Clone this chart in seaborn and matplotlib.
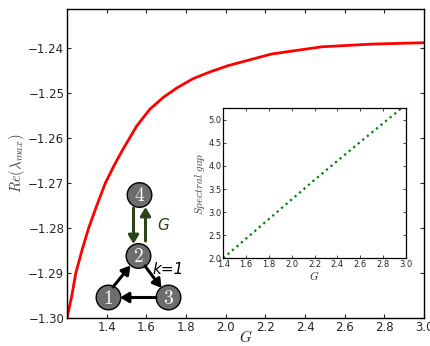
import numpy as np
import pandas as pd
import seaborn as sns
import matplotlib.pyplot as plt
from matplotlib.patches import Circle

sns.set_style("ticks")
plt.rcParams["mathtext.fontset"] = "cm"
plt.rcParams["xtick.direction"] = "in"
plt.rcParams["ytick.direction"] = "in"
plt.rcParams["xtick.top"] = True
plt.rcParams["ytick.right"] = True

## --- data
g_main = [1.200, 1.224, 1.244, 1.278, 1.309, 1.348, 1.393, 1.437, 1.479,
          1.550, 1.617, 1.684, 1.752, 1.835, 1.920, 2.012, 2.079, 2.232,
          2.486, 2.740, 3.000]
re_lambda = [-1.3000, -1.2950, -1.2900, -1.2845, -1.2800, -1.2752, -1.2700,
             -1.2661, -1.2627, -1.2574, -1.2536, -1.2510, -1.2489, -1.2468,
             -1.2453, -1.2439, -1.2431, -1.2413, -1.2397, -1.2391, -1.2388]

g_inset = [1.4, 1.8, 2.2, 2.6, 3.0]
spectral_gap = [2.0, 2.85, 3.70, 4.52, 5.33]

main_xticks = [1.4, 1.6, 1.8, 2.0, 2.2, 2.4, 2.6, 2.8, 3.0]
main_yticks = [-1.30, -1.29, -1.28, -1.27, -1.26, -1.25, -1.24]
inset_xticks = [1.4, 1.6, 1.8, 2.0, 2.2, 2.4, 2.6, 2.8, 3.0]
inset_yticks = [2.0, 2.5, 3.0, 3.5, 4.0, 4.5, 5.0]
## ---

main = pd.DataFrame({"G": g_main, "re": re_lambda})
inset = pd.DataFrame({"G": g_inset, "gap": spectral_gap})

fig = plt.figure(figsize=(4.3, 3.46), dpi=100)

ax = fig.add_axes([0.156, 0.081, 0.830, 0.893])
sns.lineplot(data=main, x="G", y="re", color="red", lw=2, ax=ax)
ax.set_xlim(1.2, 3.0)
ax.set_ylim(-1.30, -1.2313)
ax.set_xticks(main_xticks)
ax.set_yticks(main_yticks)
ax.set_xticklabels([f"{t:.1f}" for t in main_xticks], fontsize=8.5)
ax.set_yticklabels([f"\u2212{abs(t):.2f}" for t in main_yticks], fontsize=8.5)
ax.set_xlabel("$G$", fontsize=11, va="center")
ax.xaxis.set_label_coords(0.5, -0.062)
ax.set_ylabel(r"$Re(\lambda_{max})$", fontsize=10.5, color="#444444", labelpad=1)
ax.tick_params(length=3, width=0.8, pad=2)
for sp in ax.spines.values():
    sp.set_color("black")
    sp.set_linewidth(1)

axi = fig.add_axes([0.519, 0.2535, 0.425, 0.4335])
sns.lineplot(data=inset, x="G", y="gap", color="green", lw=1.6,
             linestyle=":", ax=axi)
axi.set_xlim(1.4, 3.0)
axi.set_ylim(2.0, 5.25)
axi.set_xticks(inset_xticks)
axi.set_yticks(inset_yticks)
axi.set_xticklabels([f"{t:.1f}" for t in inset_xticks], fontsize=6)
axi.set_yticklabels([f"{t:.1f}" for t in inset_yticks], fontsize=6)
axi.set_xlabel("$G$", fontsize=8, labelpad=0)
axi.set_ylabel(r"$Spectral\ gap$", fontsize=8, labelpad=1, color="#444444")
axi.tick_params(length=2, width=0.6, pad=1)
for sp in axi.spines.values():
    sp.set_color("black")
    sp.set_linewidth(0.9)

## --- network sketch drawn in pixel space on a transparent overlay
ov = fig.add_axes([0, 0, 1, 1], facecolor="none")
ov.set_xlim(0, 430)
ov.set_ylim(346, 0)
ov.axis("off")

nodes = {"4": (139.5, 195.0), "2": (138.5, 256.0),
         "1": (108.5, 297.5), "3": (168.5, 297.5)}
for name, (cx, cy) in nodes.items():
    ov.add_patch(Circle((cx, cy), 12.3, facecolor="#6d6d6d", edgecolor="black",
                        lw=1, zorder=3))
    ov.text(cx, cy + 0.5, f"${name}$", color="white", fontsize=14,
            ha="center", va="center", zorder=4)

dark_green = "#2b4316"
arrow = dict(arrowstyle="-|>,head_length=0.5,head_width=0.3", lw=2.2,
             shrinkA=0, shrinkB=0)
ov.annotate("", xy=(133.5, 244), xytext=(133.5, 208),
            arrowprops=dict(arrow, color=dark_green))
ov.annotate("", xy=(145.5, 207), xytext=(145.5, 241),
            arrowprops=dict(arrow, color=dark_green))
ov.text(163, 226, "G", color=dark_green, fontsize=11, style="italic",
        ha="center", va="center")

ov.annotate("", xy=(130.5, 265.5), xytext=(113, 287),
            arrowprops=dict(arrow, color="black"))
ov.annotate("", xy=(161.5, 288), xytext=(145, 266),
            arrowprops=dict(arrow, color="black"))
ov.annotate("", xy=(120, 297.5), xytext=(156, 297.5),
            arrowprops=dict(arrow, color="black"))
ov.text(168, 270, "k=1", color="black", fontsize=11, style="italic",
        ha="center", va="center")

fig.savefig("out.png", dpi=100)
